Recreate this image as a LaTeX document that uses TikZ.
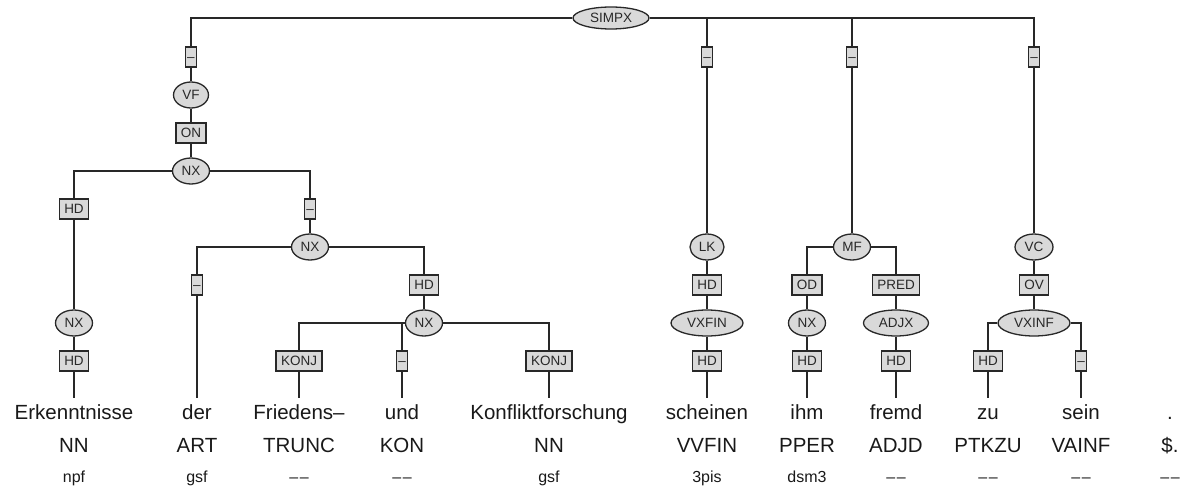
\documentclass[tikz,border=0pt]{standalone}
\usepackage{fontspec}
\setmainfont{Liberation Sans}
\usetikzlibrary{shapes.geometric}
\pgfdeclarelayer{bg}
\pgfsetlayers{bg,main}
\definecolor{nodefill}{RGB}{217,217,217}
\definecolor{ink}{RGB}{40,40,40}
\newcommand{\nomorph}{–\kern1.6pt–}
\begin{document}
\begin{tikzpicture}[x=1pt,y=-1pt,
  lbl/.style={font=\fontsize{13.5}{14}\selectfont, text=ink, text height=9.7pt, text depth=0pt},
  cat/.style={lbl, ellipse, draw=ink, fill=nodefill, line width=1.3pt, inner xsep=0pt, inner ysep=0pt, minimum height=26pt},
  fn/.style={lbl, rectangle, draw=ink, fill=nodefill, line width=1.3pt, inner xsep=5pt, inner ysep=5.15pt},
  fnd/.style={fn, inner xsep=1.75pt},
  word/.style={font=\fontsize{20.5}{24}\selectfont, text=black!90, text height=15pt, text depth=4.5pt, inner ysep=6pt, inner xsep=0pt, anchor=north},
  postag/.style={font=\fontsize{20.5}{24}\selectfont, text=black!90, anchor=base, inner sep=0pt},
  morph/.style={font=\fontsize{16}{19}\selectfont, text=black!90, anchor=base, inner sep=0pt},
  edge/.style={draw=ink, line width=1.2pt}
]
\useasboundingbox (0,0) rectangle (1183,497);
% --- nodes ---
\node[cat, minimum width=76, minimum height=22] (simpx) at (611,18) {SIMPX};
\node[fnd] (d1) at (191,57) {–};
\node[cat, minimum width=35] (vf) at (191,95) {VF};
\node[fn] (on) at (191,133) {ON};
\node[cat, minimum width=37] (nx1) at (191,171) {NX};
\node[fn] (hd1) at (74,209) {HD};
\node[cat, minimum width=37] (nx2) at (74,323) {NX};
\node[fn] (hd2) at (74,361) {HD};
\node[fnd] (d5) at (310,209) {–};
\node[cat, minimum width=37] (nx3) at (310,247) {NX};
\node[fnd] (d6) at (197,285) {–};
\node[fn] (hd3) at (424,285) {HD};
\node[cat, minimum width=37] (nx4) at (424,323) {NX};
\node[fn] (konj1) at (299,361) {KONJ};
\node[fnd] (d7) at (402,361) {–};
\node[fn] (konj2) at (549,361) {KONJ};
\node[fnd] (d2) at (707,57) {–};
\node[cat, minimum width=34] (lk) at (707,247) {LK};
\node[fn] (hd4) at (707,285) {HD};
\node[cat, minimum width=72] (vxfin) at (707,323) {VXFIN};
\node[fn] (hd5) at (707,361) {HD};
\node[fnd] (d3) at (852,57) {–};
\node[cat, minimum width=37] (mf) at (852,247) {MF};
\node[fn] (od) at (807,285) {OD};
\node[cat, minimum width=37] (nx5) at (807,323) {NX};
\node[fn] (hd6) at (807,361) {HD};
\node[fn] (pred) at (896,285) {PRED};
\node[cat, minimum width=65] (adjx) at (896,323) {ADJX};
\node[fn] (hd7) at (896,361) {HD};
\node[fnd] (d4) at (1034,57) {–};
\node[cat, minimum width=38] (vc) at (1034,247) {VC};
\node[fn] (ov) at (1034,285) {OV};
\node[cat, minimum width=72] (vxinf) at (1034,323) {VXINF};
\node[fn] (hd8) at (988,361) {HD};
\node[fnd] (d8) at (1081,361) {–};
% --- words ---
\node[word] (w1) at (74,398) {Erkenntnisse};
\node[word] (w2) at (197,398) {der};
\node[word] (w3) at (299,398) {Friedens–};
\node[word] (w4) at (402,398) {und};
\node[word] (w5) at (549,398) {Konfliktforschung};
\node[word] (w6) at (707,398) {scheinen};
\node[word] (w7) at (807,398) {ihm};
\node[word] (w8) at (896,398) {fremd};
\node[word] (w9) at (988,398) {zu};
\node[word] (w10) at (1081,398) {sein};
\node[word] (w11) at (1170,398) {.};
% --- POS tags ---
\node[postag] (p1) at (74,452) {NN};
\node[postag] (p2) at (197,452) {ART};
\node[postag] (p3) at (299,452) {TRUNC};
\node[postag] (p4) at (402,452) {KON};
\node[postag] (p5) at (549,452) {NN};
\node[postag] (p6) at (707,452) {VVFIN};
\node[postag] (p7) at (807,452) {PPER};
\node[postag] (p8) at (896,452) {ADJD};
\node[postag] (p9) at (988,452) {PTKZU};
\node[postag] (p10) at (1081,452) {VAINF};
\node[postag] (p11) at (1170,452) {\$.};
% --- morphology ---
\node[morph] (m1) at (74,482) {npf};
\node[morph] (m2) at (197,482) {gsf};
\node[morph] (m3) at (299,482) {\nomorph};
\node[morph] (m4) at (402,482) {\nomorph};
\node[morph] (m5) at (549,482) {gsf};
\node[morph] (m6) at (707,482) {3pis};
\node[morph] (m7) at (807,482) {dsm3};
\node[morph] (m8) at (896,482) {\nomorph};
\node[morph] (m9) at (988,482) {\nomorph};
\node[morph] (m10) at (1081,482) {\nomorph};
\node[morph] (m11) at (1170,482) {\nomorph};
% --- connectors ---
\begin{pgfonlayer}{bg}
\draw[edge] (simpx) -| (d1);
\draw[edge] (simpx) -| (d2);
\draw[edge] (simpx) -| (d3);
\draw[edge] (simpx) -| (d4);
\draw[edge] (d1) -- (vf);
\draw[edge] (vf) -- (on);
\draw[edge] (on) -- (nx1);
\draw[edge] (nx1) -| (hd1);
\draw[edge] (nx1) -| (d5);
\draw[edge] (hd1) -- (nx2);
\draw[edge] (nx2) -- (hd2);
\draw[edge] (hd2) -- (w1);
\draw[edge] (d5) -- (nx3);
\draw[edge] (nx3) -| (d6);
\draw[edge] (nx3) -| (hd3);
\draw[edge] (d6) -- (w2);
\draw[edge] (hd3) -- (nx4);
\draw[edge] (nx4) -| (konj1);
\draw[edge] (nx4) -| (d7);
\draw[edge] (nx4) -| (konj2);
\draw[edge] (konj1) -- (w3);
\draw[edge] (d7) -- (w4);
\draw[edge] (konj2) -- (w5);
\draw[edge] (d2) -- (lk);
\draw[edge] (lk) -- (hd4);
\draw[edge] (hd4) -- (vxfin);
\draw[edge] (vxfin) -- (hd5);
\draw[edge] (hd5) -- (w6);
\draw[edge] (d3) -- (mf);
\draw[edge] (mf) -| (od);
\draw[edge] (mf) -| (pred);
\draw[edge] (od) -- (nx5);
\draw[edge] (nx5) -- (hd6);
\draw[edge] (hd6) -- (w7);
\draw[edge] (pred) -- (adjx);
\draw[edge] (adjx) -- (hd7);
\draw[edge] (hd7) -- (w8);
\draw[edge] (d4) -- (vc);
\draw[edge] (vc) -- (ov);
\draw[edge] (ov) -- (vxinf);
\draw[edge] (vxinf) -| (hd8);
\draw[edge] (vxinf) -| (d8);
\draw[edge] (hd8) -- (w9);
\draw[edge] (d8) -- (w10);
\end{pgfonlayer}
\end{tikzpicture}
\end{document}
